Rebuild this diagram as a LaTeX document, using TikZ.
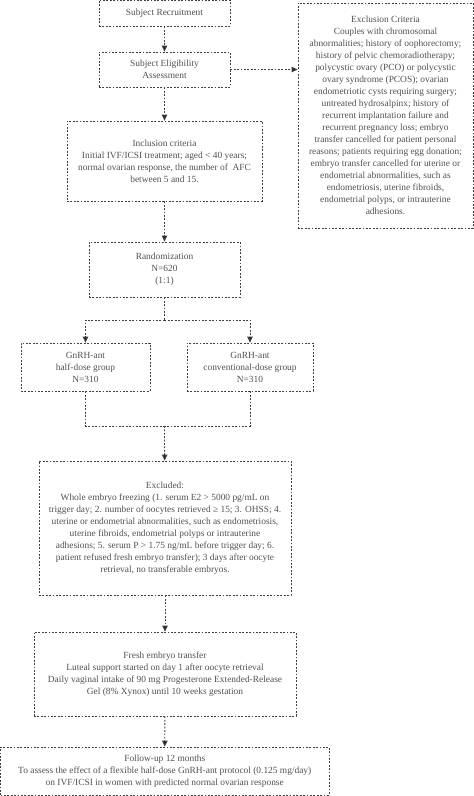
\documentclass[tikz,border=0pt]{standalone}
\usepackage{fontspec}
\setmainfont{Liberation Serif}
\usepackage{tikz}
\usetikzlibrary{
arrows.meta,
positioning,
calc
}
\definecolor{flowtext}{HTML}{505050}
\definecolor{flowline}{HTML}{404040}
\definecolor{flowhead}{HTML}{2A2A2A}

\begin{document}
\begin{tikzpicture}[
  x=1pt, y=-1pt,
  >={Triangle[width=5.5pt,length=6pt]},
  every node/.style={font=\fontsize{9.4}{12}\selectfont, text=flowtext},
  box/.style={draw=flowline, line width=0.8pt, dash pattern=on 1.8pt off 1.6pt,
    align=center, inner sep=0pt},
  link/.style={draw=flowline, line width=0.8pt, dash pattern=on 1.8pt off 1.6pt},
  arr/.style={link, ->, >={Triangle[width=5.5pt,length=6pt,fill=flowhead]}}
]
\useasboundingbox (0,0) rectangle (474,796);

%% ── ENROLMENT ───────────────────────────────────────────────────
\node[box, minimum width=131pt, minimum height=26pt] (recruit) at (164.5,13)
  {Subject Recruitment};
\node[box, minimum width=131pt, minimum height=35pt] (elig) at (164.5,69.5)
  {Subject Eligibility\\Assessment};

%% exclusion list, right column
\node[box, minimum width=175pt, minimum height=225pt] (exclusion) at (385.5,115.5)
  {Exclusion Criteria\\
   Couples with chromosomal\\
   abnormalities; history of oophorectomy;\\
   history of pelvic chemoradiotherapy;\\
   polycystic ovary (PCO) or polycystic\\
   ovary syndrome (PCOS); ovarian\\
   endometriotic cysts requiring surgery;\\
   untreated hydrosalpinx; history of\\
   recurrent implantation failure and\\
   recurrent pregnancy loss; embryo\\
   transfer cancelled for patient personal\\
   reasons; patients requiring egg donation;\\
   embryo transfer cancelled for uterine or\\
   endometrial abnormalities, such as\\
   endometriosis, uterine fibroids,\\
   endometrial polyps, or intrauterine\\
   adhesions.};

\node[box, minimum width=195pt, minimum height=80pt] (incl) at (164.5,161)
  {Inclusion criteria\\
   Initial IVF/ICSI treatment; aged < 40 years;\\
   normal ovarian response, the number of\ \ AFC\\
   between 5 and 15.};

%% ── RANDOMIZATION ───────────────────────────────────────────────
\node[box, minimum width=151pt, minimum height=55pt] (rand) at (164.5,269.5)
  {Randomization\\N=620\\(1:1)};

\node[box, minimum width=129pt, minimum height=48pt] (half) at (85.5,367)
  {GnRH-ant\\half-dose group\\N=310};
\node[box, minimum width=126pt, minimum height=48pt] (conv) at (250,367)
  {GnRH-ant\\conventional-dose group\\N=310};

%% ── EXCLUSION AFTER STIMULATION ─────────────────────────────────
\node[box, minimum width=252pt, minimum height=134pt] (excluded) at (165,528)
  {Excluded:\\
   Whole embryo freezing (1. serum E2 > 5000 pg/mL on\\
   trigger day; 2. number of oocytes retrieved ≥ 15; 3. OHSS; 4.\\
   uterine or endometrial abnormalities, such as endometriosis,\\
   uterine fibroids, endometrial polyps or intrauterine\\
   adhesions; 5. serum P > 1.75 ng/mL before trigger day; 6.\\
   patient refused fresh embryo transfer); 3 days after oocyte\\
   retrieval, no transferable embryos.};

\node[box, minimum width=262pt, minimum height=84pt] (fresh) at (165,674)
  {Fresh embryo transfer\\
   Luteal support started on day 1 after oocyte retrieval\\
   Daily vaginal intake of 90 mg Progesterone Extended-Release\\
   Gel (8\% Xynox) until 10 weeks gestation};

\node[box, minimum width=328.5pt, minimum height=48pt] (follow) at (164.75,771)
  {Follow-up 12 months\\
   To assess the effect of a flexible half-dose GnRH-ant protocol (0.125 mg/day)\\
   on IVF/ICSI in women with predicted normal ovarian response};

%% ── CONNECTORS ──────────────────────────────────────────────────
\coordinate (split) at (164.5,320);
\coordinate (join) at (164.5,426);

\draw[arr] (recruit) -- (elig);
\draw[arr] (elig) -- (incl);
\draw[arr] (elig.east) -- (elig.east -| exclusion.west);
\draw[arr] (incl) -- (rand);
\draw[link] (rand) -- (split);
\draw[arr] (split) -| (half);
\draw[arr] (split) -| (conv);
\draw[link] (half) |- (join);
\draw[link] (conv) |- (join);
\draw[arr] (join) -- (excluded);
\draw[arr] (excluded) -- (fresh);
\draw[arr] (fresh) -- (follow);

\end{tikzpicture}
\end{document}
